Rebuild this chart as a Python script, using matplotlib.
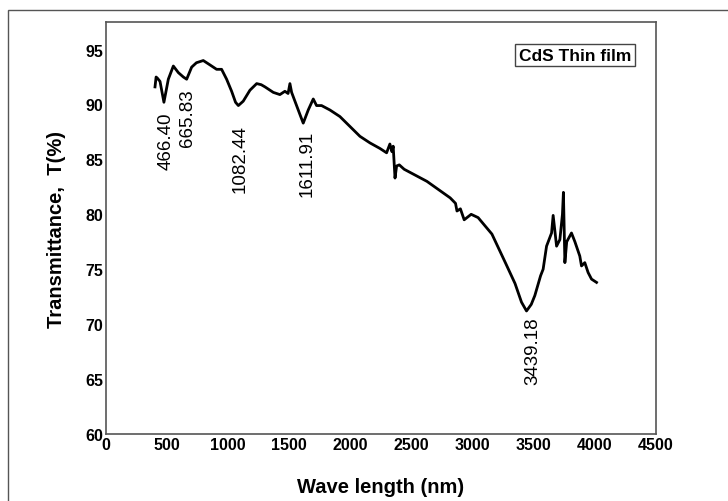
import matplotlib
matplotlib.use('Agg')
import matplotlib.pyplot as plt
from matplotlib.patches import Rectangle

plt.rcParams['font.family'] = ['Liberation Sans', 'DejaVu Sans']

# FTIR transmittance of the CdS thin film
wavelength = [401, 410, 420, 442, 474, 510, 551, 592, 633, 660, 701, 740, 796,
              851, 905, 946, 987, 1028, 1060, 1083, 1123, 1178, 1233, 1270,
              1301, 1369, 1423, 1464, 1490, 1505, 1519, 1546, 1590, 1614,
              1655, 1696, 1723, 1764, 1832, 1914, 1996, 2078, 2160, 2241,
              2296, 2323, 2340, 2350, 2365, 2378, 2400, 2440, 2626, 2816,
              2860, 2872, 2900, 2931, 2988, 3045, 3158, 3272, 3347, 3400,
              3441, 3480, 3509, 3556, 3577, 3605, 3646, 3659, 3687, 3714,
              3735, 3743, 3755, 3770, 3809, 3837, 3877, 3891, 3918, 3945,
              3973, 4014]
transmittance = [91.6, 92.5, 92.4, 92.1, 90.2, 92.3, 93.5, 92.9, 92.5, 92.3,
                 93.4, 93.8, 94.0, 93.6, 93.2, 93.2, 92.3, 91.2, 90.2, 89.9,
                 90.3, 91.3, 91.9, 91.8, 91.6, 91.1, 90.9, 91.2, 91.0, 91.9,
                 91.1, 90.3, 89.0, 88.3, 89.5, 90.5, 89.9, 89.9, 89.5, 88.9,
                 88.0, 87.1, 86.5, 86.0, 85.6, 86.4, 85.7, 86.2, 83.3, 84.4,
                 84.5, 84.1, 83.0, 81.5, 81.0, 80.3, 80.5, 79.5, 80.0, 79.7,
                 78.2, 75.5, 73.7, 72.0, 71.2, 71.8, 72.6, 74.4, 75.0, 77.1,
                 78.3, 79.9, 77.1, 77.7, 80.0, 82.0, 75.6, 77.5, 78.3, 77.5,
                 76.2, 75.3, 75.6, 74.7, 74.1, 73.8]

# peak labels: text, x, top of label
peak_labels = ['466.40', '665.83', '1082.44', '1611.91', '3439.18']
peak_x = [491, 671, 1096, 1644, 3493]
peak_top = [89.4, 91.5, 88.2, 87.7, 70.7]

xticks = [0, 500, 1000, 1500, 2000, 2500, 3000, 3500, 4000, 4500]
yticks = [60, 65, 70, 75, 80, 85, 90, 95]

fig = plt.figure(figsize=(7.28, 5.02), dpi=100)
ax = fig.add_axes([0.1456, 0.1335, 0.7554, 0.8205])

# outer frame of the figure
fig.patches.append(Rectangle((8 / 728, -0.1), 1.2, 1.1 - 11 / 502,
                             transform=fig.transFigure, fill=False,
                             edgecolor='#555555', linewidth=1.0))

ax.plot(wavelength, transmittance, color='black', linewidth=2.0)

for lab, px, pt in zip(peak_labels, peak_x, peak_top):
    ax.text(px, pt, lab, rotation=90, ha='center', va='top', fontsize=13.5)

ax.text(0.853, 0.92, 'CdS Thin film', transform=ax.transAxes, ha='center',
        va='center', fontsize=12.5, fontweight='bold',
        bbox=dict(boxstyle='square,pad=0.2', facecolor='white',
                  edgecolor='#444444', linewidth=1.0))

ax.set_xlim(0, 4500)
ax.set_ylim(60, 97.5)
ax.set_xticks(xticks)
ax.set_yticks(yticks)
ax.tick_params(length=0, pad=2, labelsize=11.5)
for t in ax.get_xticklabels() + ax.get_yticklabels():
    t.set_fontweight('bold')
for s in ax.spines.values():
    s.set_color('#555555')
    s.set_linewidth(1.2)

ax.set_xlabel('Wave length (nm)', fontsize=14.5, fontweight='bold',
              labelpad=18)
ax.set_ylabel('Transmittance,  T(%)', fontsize=14.5, fontweight='bold',
              labelpad=14)

plt.savefig('out.png', dpi=100)
plt.close()
